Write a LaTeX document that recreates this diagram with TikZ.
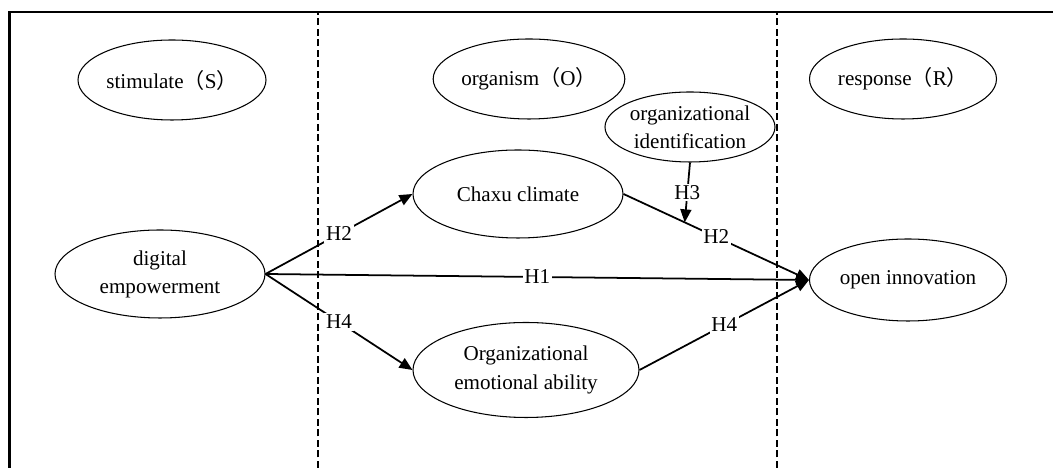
\documentclass[tikz,border=0pt]{standalone}
\usepackage{fontspec}
\setmainfont{Liberation Serif}
\newfontfamily\cjk{Noto Sans CJK SC}
\usetikzlibrary{arrows.meta,shapes.geometric}

\begin{document}
\begin{tikzpicture}[
  every node/.style={font=\fontsize{12}{16}\selectfont},
  var/.style={ellipse,draw,line width=.6pt,inner sep=0pt,align=center},
  link/.style={line width=1pt,-{Triangle[length=.26cm,width=.22cm]}},
  hyp/.style={fill=white,inner sep=1pt}]
\useasboundingbox (0,0) rectangle (21.06,9.36);
\draw[line width=1.2pt] (0.19,0) -- (0.19,9.12) -- (21.06,9.12);
\draw[line width=.7pt,dash pattern=on 4pt off 2pt] (6.36,0) -- (6.36,9.12);
\draw[line width=.7pt,dash pattern=on 4pt off 2pt] (15.54,0) -- (15.54,9.12);
\node[var,minimum width=3.76cm,minimum height=1.6cm] (stim) at (3.44,7.76) {stimulate{\cjk（}S{\cjk）}};
\node[var,minimum width=3.76cm,minimum height=1.6cm] (orgm) at (10.58,7.78) {organism{\cjk（}O{\cjk）}};
\node[var,minimum width=3.74cm,minimum height=1.6cm] (resp) at (18.06,7.78) {response{\cjk（}R{\cjk）}};
\node[var,minimum width=3.32cm,minimum height=1.4cm] (ident) at (13.8,6.82) {organizational\\identification};
\node[var,minimum width=4.2cm,minimum height=1.76cm] (chaxu) at (10.36,5.48) {Chaxu climate};
\node[var,minimum width=4.2cm,minimum height=1.76cm] (digital) at (3.2,3.88) {digital\\empowerment};
\node[var,minimum width=3.94cm,minimum height=1.64cm] (open) at (18.16,3.76) {open innovation};
\node[var,minimum width=4.52cm,minimum height=1.9cm] (emo) at (10.52,1.96) {Organizational\\emotional ability};
\draw[link] (digital.east) -- node[hyp,midway]{H2} (chaxu.west);
\draw[link] (digital.east) -- node[hyp,midway]{H1} (open.west);
\draw[link] (digital.east) -- node[hyp,midway]{H4} (emo.west);
\draw[link] (chaxu.east) -- coordinate[pos=.33] (m) node[hyp,midway]{H2} (open.west);
\draw[link] (emo.east) -- node[hyp,midway]{H4} (open.west);
\draw[link] (ident.south) -- node[hyp,midway]{H3} (m);
\end{tikzpicture}
\end{document}
